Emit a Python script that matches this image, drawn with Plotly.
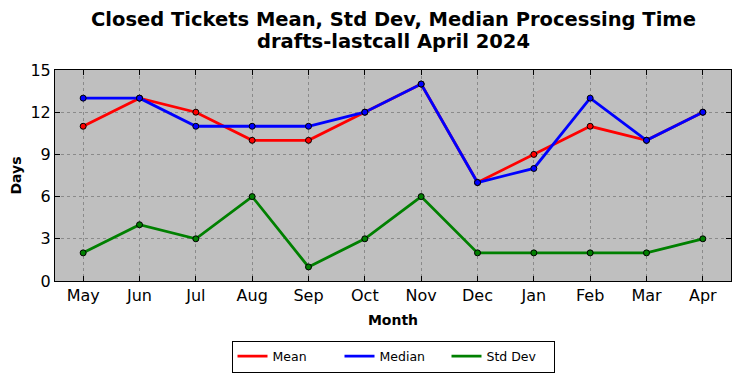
import plotly.graph_objects as go

months = ["May", "Jun", "Jul", "Aug", "Sep", "Oct", "Nov", "Dec", "Jan", "Feb", "Mar", "Apr"]
mean_vals = [11, 13, 12, 10, 10, 12, 14, 7, 9, 11, 10, 12]
median_vals = [13, 13, 11, 11, 11, 12, 14, 7, 8, 13, 10, 12]
std_vals = [2, 4, 3, 6, 1, 3, 6, 2, 2, 2, 2, 3]
y_ticks = [0, 3, 6, 9, 12, 15]
title_lines = ["Closed Tickets Mean, Std Dev, Median Processing Time", "drafts-lastcall April 2024"]

series = [("Mean", mean_vals, "#ff0000"), ("Median", median_vals, "#0000ff"), ("Std Dev", std_vals, "#008000")]

fig = go.Figure()
for name, vals, col in series:
    fig.add_trace(go.Scatter(x=months, y=vals, mode="lines", name=name,
                             line=dict(color=col, width=2.8)))
for name, vals, col in series:
    fig.add_trace(go.Scatter(x=months, y=vals, mode="markers", showlegend=False,
                             marker=dict(color=col, size=6, line=dict(color="black", width=1))))

fig.update_layout(
    width=733, height=370,
    margin=dict(l=47, r=10, t=62, b=97, autoexpand=False),
    paper_bgcolor="white", plot_bgcolor="#bfbfbf",
    font=dict(family="DejaVu Sans", color="black"),
    showlegend=True,
    legend=dict(orientation="h", x=0.5, xanchor="center", y=-0.282, yanchor="top",
                bordercolor="black", borderwidth=1, font=dict(size=12.5), bgcolor="white",
                entrywidth=62, itemwidth=30),
    annotations=[
        dict(text="<b>" + title_lines[0] + "</b>", xref="paper", yref="paper", x=0.5, y=1.0, yshift=51,
             xanchor="center", yanchor="middle", showarrow=False, font=dict(size=19.5)),
        dict(text="<b>" + title_lines[1] + "</b>", xref="paper", yref="paper", x=0.5, y=1.0, yshift=29,
             xanchor="center", yanchor="middle", showarrow=False, font=dict(size=19.5)),
    ],
)
fig.update_xaxes(range=[-0.5, 11.5], showline=True, linecolor="black", linewidth=1, mirror="allticks",
                 ticks="inside", ticklen=5, tickcolor="black", tickfont=dict(size=16), automargin=False,
                 showgrid=True, gridcolor="#8a8a8a", griddash="dot", gridwidth=1,
                 title=dict(text="<b>Month</b>", font=dict(size=14), standoff=10))
fig.update_yaxes(range=[0, 15], tickvals=y_ticks, showline=True, linecolor="black", linewidth=1, mirror="allticks",
                 ticks="inside", ticklen=5, tickcolor="black", tickfont=dict(size=16), automargin=False,
                 showgrid=True, gridcolor="#8a8a8a", griddash="dot", gridwidth=1, zeroline=False,
                 title=dict(text="<b>Days</b>", font=dict(size=14), standoff=7))

fig.write_html("out.html")
